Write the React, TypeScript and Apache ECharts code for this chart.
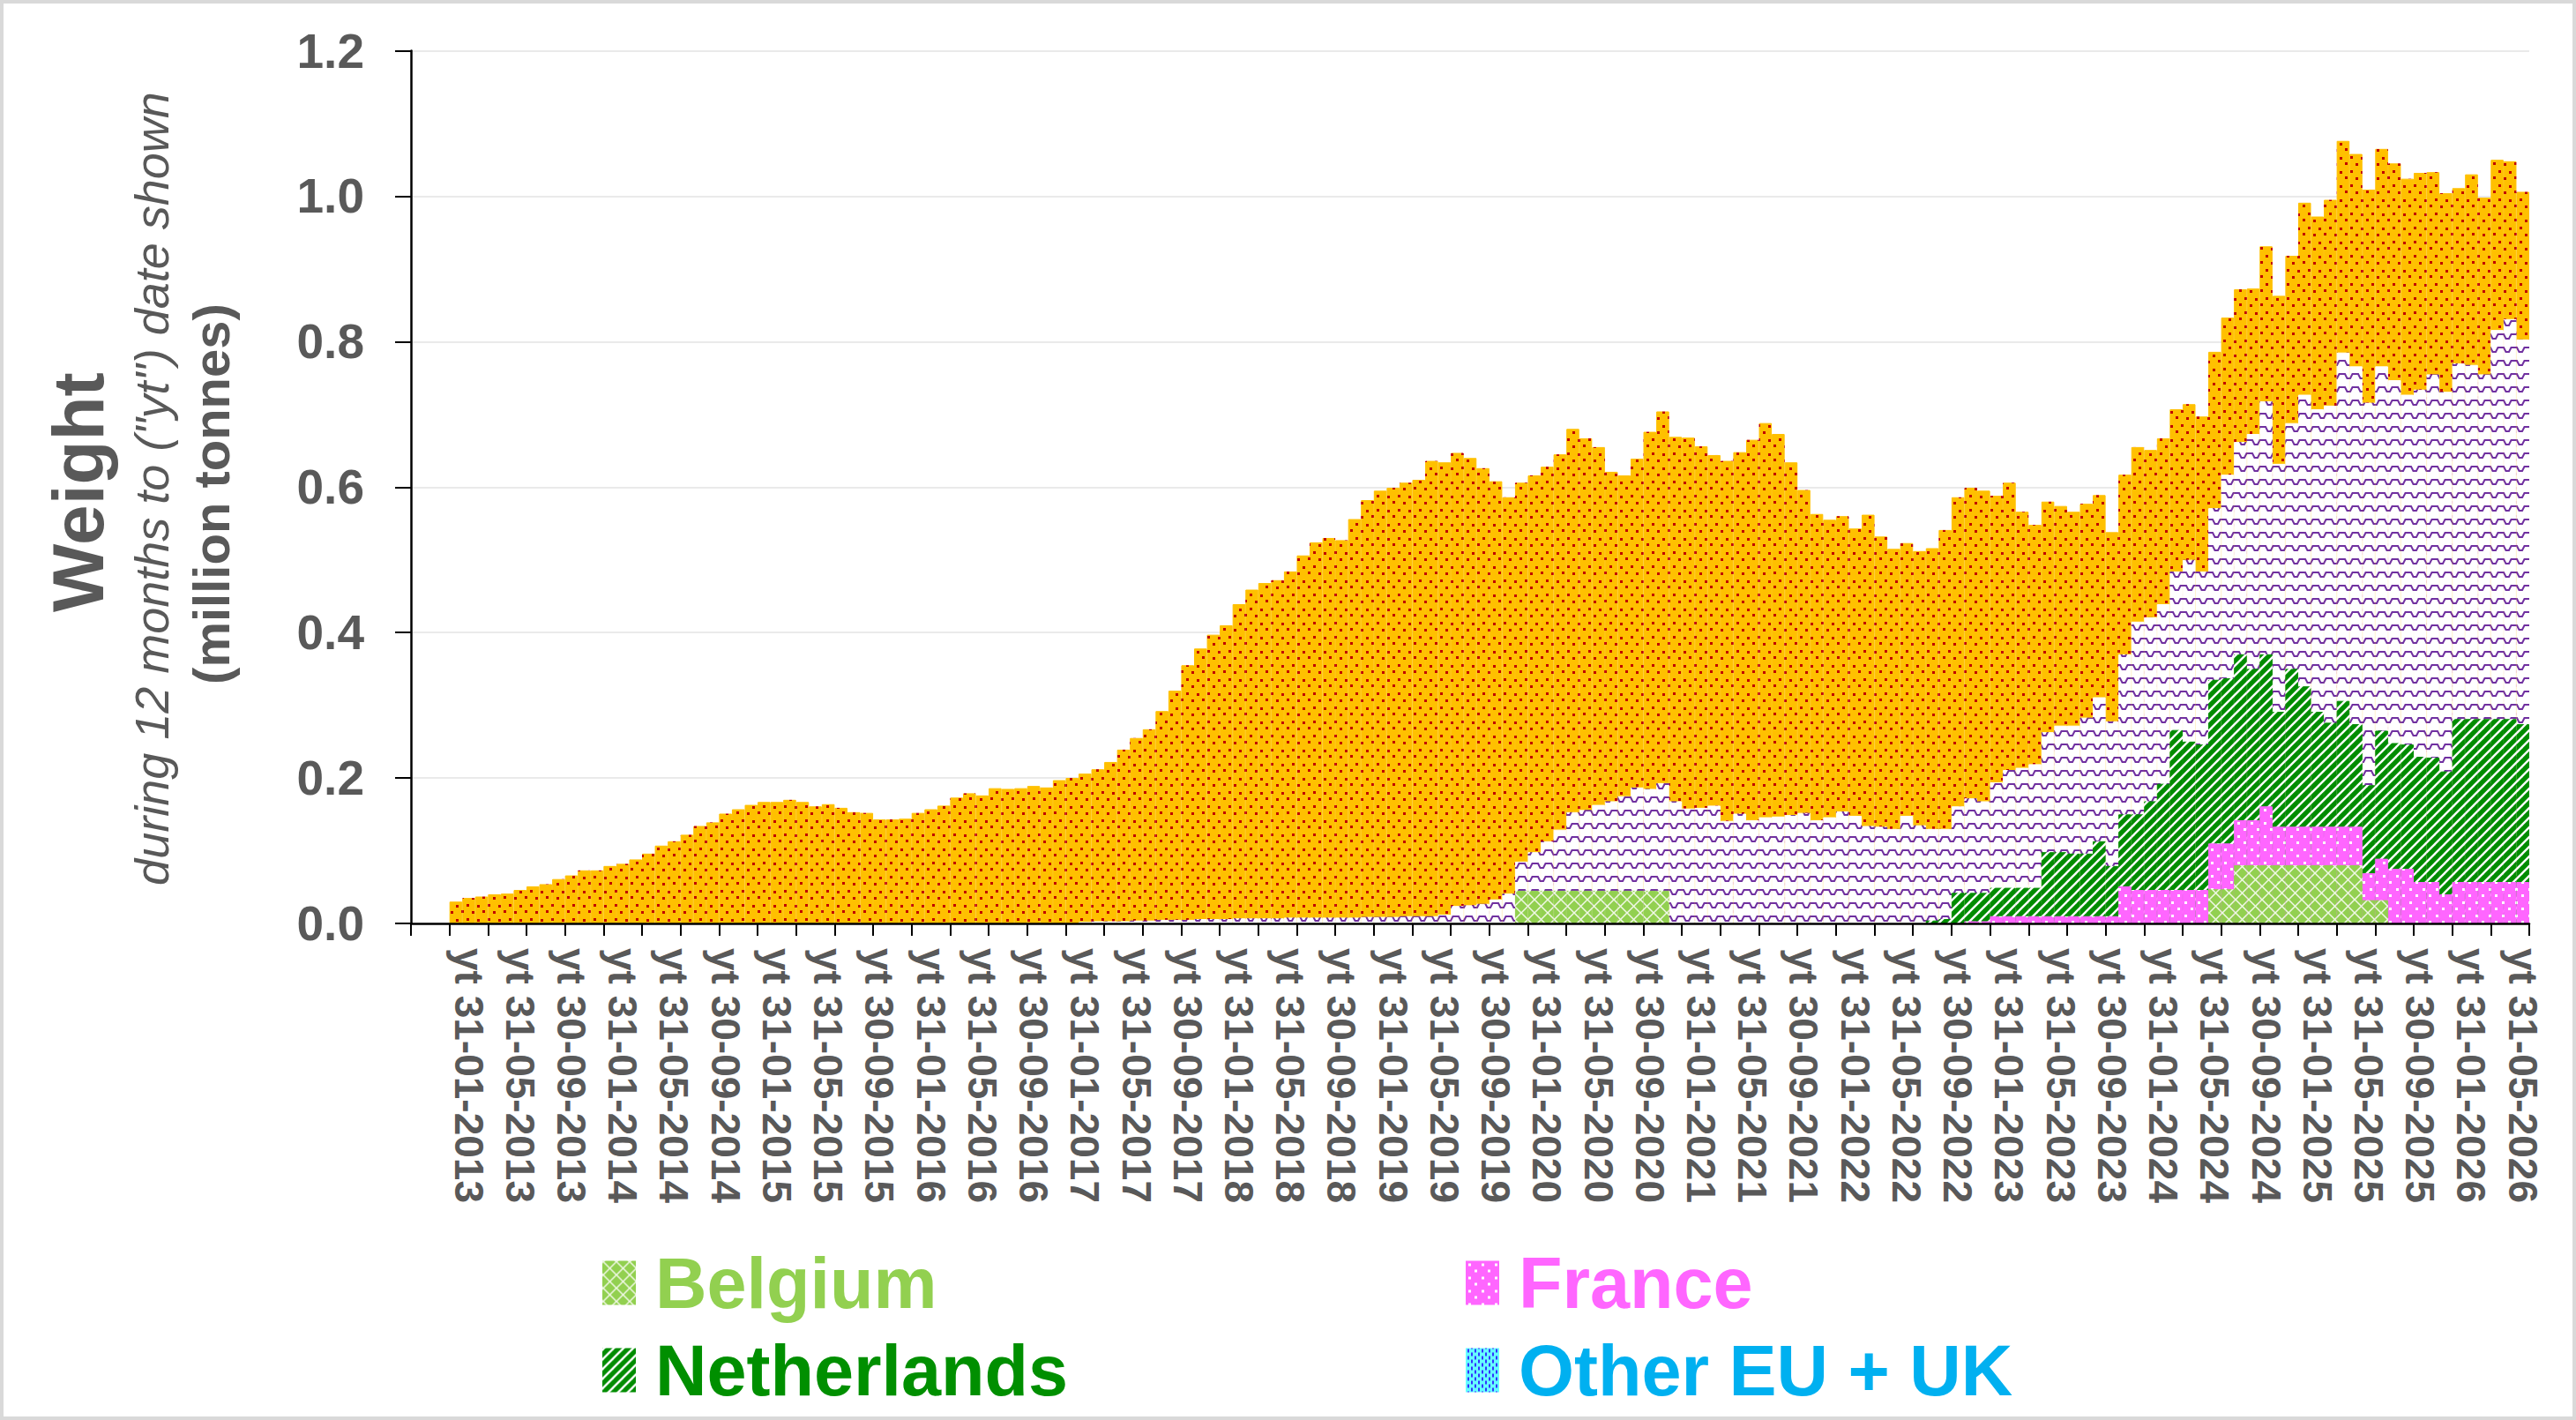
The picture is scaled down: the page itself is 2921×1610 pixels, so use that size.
import React, { useEffect, useRef } from "react";
import * as echarts from "echarts";

// months run from yt 31-12-2012 to yt 31-05-2026 (one row per calendar year, first row = Dec 2012)
const LEADING_BLANKS = 3; // empty category slots before the first month (Sep-Nov 2012)
const MONTHS = 162;

const seriesOrange = [
  0.030,
  0.035, 0.037, 0.040, 0.041, 0.046, 0.051, 0.054, 0.061, 0.066, 0.073, 0.073, 0.079,
  0.082, 0.088, 0.096, 0.107, 0.113, 0.122, 0.134, 0.139, 0.151, 0.157, 0.163, 0.167,
  0.167, 0.170, 0.167, 0.161, 0.164, 0.159, 0.153, 0.152, 0.143, 0.143, 0.144, 0.152,
  0.157, 0.162, 0.173, 0.179, 0.176, 0.186, 0.185, 0.186, 0.189, 0.187, 0.197, 0.200,
  0.206, 0.212, 0.222, 0.239, 0.255, 0.267, 0.292, 0.320, 0.355, 0.378, 0.397, 0.410,
  0.439, 0.459, 0.468, 0.472, 0.484, 0.506, 0.524, 0.530, 0.527, 0.556, 0.582, 0.595,
  0.599, 0.606, 0.610, 0.636, 0.634, 0.647, 0.640, 0.626, 0.608, 0.586, 0.606, 0.616,
  0.628, 0.645, 0.680, 0.667, 0.655, 0.621, 0.616, 0.639, 0.676, 0.704, 0.669, 0.668,
  0.656, 0.644, 0.636, 0.648, 0.665, 0.688, 0.673, 0.634, 0.596, 0.563, 0.555, 0.560,
  0.543, 0.562, 0.532, 0.515, 0.523, 0.512, 0.516, 0.541, 0.586, 0.599, 0.595, 0.588,
  0.606, 0.566, 0.548, 0.580, 0.574, 0.566, 0.577, 0.589, 0.538, 0.617, 0.655, 0.651,
  0.667, 0.707, 0.714, 0.697, 0.786, 0.833, 0.872, 0.873, 0.931, 0.863, 0.918, 0.991,
  0.972, 0.995, 1.076, 1.058, 1.009, 1.065, 1.045, 1.024, 1.032, 1.033, 1.004, 1.011,
  1.030, 0.998, 1.050, 1.048, 1.006,
];

const seriesPurple = [
  0,
  0, 0, 0, 0, 0, 0, 0, 0, 0, 0, 0, 0,
  0, 0, 0, 0, 0, 0, 0, 0, 0, 0, 0, 0,
  0, 0, 0, 0, 0, 0, 0, 0, 0, 0, 0, 0,
  0, 0, 0, 0, 0, 0, 0, 0, 0, 0, 0, 0,
  0.002, 0.003, 0.003, 0.003, 0.004, 0.004, 0.005, 0.005, 0.005, 0.006, 0.006, 0.006,
  0.007, 0.007, 0.007, 0.007, 0.008, 0.008, 0.008, 0.008, 0.008, 0.008, 0.009, 0.009,
  0.009, 0.010, 0.010, 0.010, 0.012, 0.024, 0.025, 0.027, 0.033, 0.041, 0.085, 0.098,
  0.113, 0.129, 0.153, 0.156, 0.163, 0.168, 0.175, 0.187, 0.185, 0.193, 0.168, 0.158,
  0.159, 0.162, 0.141, 0.151, 0.142, 0.146, 0.147, 0.149, 0.152, 0.142, 0.146, 0.154,
  0.148, 0.134, 0.133, 0.130, 0.148, 0.135, 0.130, 0.130, 0.161, 0.172, 0.168, 0.194,
  0.211, 0.214, 0.219, 0.263, 0.272, 0.272, 0.283, 0.311, 0.278, 0.370, 0.415, 0.421,
  0.439, 0.484, 0.500, 0.484, 0.571, 0.617, 0.662, 0.673, 0.718, 0.632, 0.688, 0.727,
  0.707, 0.712, 0.785, 0.766, 0.716, 0.766, 0.747, 0.727, 0.734, 0.755, 0.731, 0.770,
  0.768, 0.755, 0.816, 0.831, 0.803,
];

const netherlands = [
  0,
  0, 0, 0, 0, 0, 0, 0, 0, 0, 0, 0, 0,
  0, 0, 0, 0, 0, 0, 0, 0, 0, 0, 0, 0,
  0, 0, 0, 0, 0, 0, 0, 0, 0, 0, 0, 0,
  0, 0, 0, 0, 0, 0, 0, 0, 0, 0, 0, 0,
  0, 0, 0, 0, 0, 0, 0, 0, 0, 0, 0, 0,
  0, 0, 0, 0, 0, 0, 0, 0, 0, 0, 0, 0,
  0, 0, 0, 0, 0, 0, 0, 0, 0, 0, 0, 0,
  0, 0, 0, 0, 0, 0, 0, 0, 0, 0, 0, 0,
  0, 0, 0, 0, 0, 0, 0, 0, 0, 0, 0, 0,
  0, 0, 0, 0, 0, 0, 0.004, 0.006, 0.042, 0.042, 0.042, 0.049,
  0.049, 0.049, 0.049, 0.098, 0.098, 0.096, 0.096, 0.113, 0.079, 0.150, 0.150, 0.168,
  0.192, 0.266, 0.250, 0.246, 0.335, 0.337, 0.370, 0.350, 0.370, 0.291, 0.350, 0.326,
  0.291, 0.276, 0.306, 0.274, 0.190, 0.265, 0.248, 0.246, 0.229, 0.228, 0.209, 0.281,
  0.281, 0.281, 0.281, 0.281, 0.274,
];

const france = [
  0,
  0, 0, 0, 0, 0, 0, 0, 0, 0, 0, 0, 0,
  0, 0, 0, 0, 0, 0, 0, 0, 0, 0, 0, 0,
  0, 0, 0, 0, 0, 0, 0, 0, 0, 0, 0, 0,
  0, 0, 0, 0, 0, 0, 0, 0, 0, 0, 0, 0,
  0, 0, 0, 0, 0, 0, 0, 0, 0, 0, 0, 0,
  0, 0, 0, 0, 0, 0, 0, 0, 0, 0, 0, 0,
  0, 0, 0, 0, 0, 0, 0, 0, 0, 0, 0, 0,
  0, 0, 0, 0, 0, 0, 0, 0, 0, 0, 0, 0,
  0, 0, 0, 0, 0, 0, 0, 0, 0, 0, 0, 0,
  0, 0, 0, 0, 0, 0, 0, 0, 0, 0.003, 0.003, 0.010,
  0.010, 0.010, 0.010, 0.010, 0.010, 0.010, 0.010, 0.010, 0.010, 0.051, 0.046, 0.046,
  0.046, 0.046, 0.046, 0.046, 0.110, 0.110, 0.142, 0.142, 0.161, 0.133, 0.133, 0.133,
  0.133, 0.133, 0.133, 0.133, 0.069, 0.089, 0.075, 0.075, 0.057, 0.057, 0.040, 0.057,
  0.057, 0.057, 0.057, 0.057, 0.057,
];

const belgium = [
  0,
  0, 0, 0, 0, 0, 0, 0, 0, 0, 0, 0, 0,
  0, 0, 0, 0, 0, 0, 0, 0, 0, 0, 0, 0,
  0, 0, 0, 0, 0, 0, 0, 0, 0, 0, 0, 0,
  0, 0, 0, 0, 0, 0, 0, 0, 0, 0, 0, 0,
  0, 0, 0, 0, 0, 0, 0, 0, 0, 0, 0, 0,
  0, 0, 0, 0, 0, 0, 0, 0, 0, 0, 0, 0,
  0, 0, 0, 0, 0, 0, 0, 0, 0, 0, 0.045, 0.045,
  0.045, 0.045, 0.045, 0.045, 0.045, 0.045, 0.045, 0.045, 0.045, 0.045, 0, 0,
  0, 0, 0, 0, 0, 0, 0, 0, 0, 0, 0, 0,
  0, 0, 0, 0, 0, 0, 0, 0, 0, 0, 0, 0,
  0, 0, 0, 0, 0, 0, 0, 0, 0, 0, 0, 0,
  0, 0, 0, 0, 0.047, 0.047, 0.080, 0.080, 0.080, 0.080, 0.080, 0.080,
  0.080, 0.080, 0.080, 0.080, 0.032, 0.032, 0, 0, 0, 0, 0, 0,
  0, 0, 0, 0, 0,
];

const otherEuUk: number[] = [];

const yTicks = [0, 0.2, 0.4, 0.6, 0.8, 1.0, 1.2];

// "yt DD-MM-YYYY" for the last day of each month, blanks for the leading empty slots
const categories = Array.from({ length: LEADING_BLANKS + MONTHS }, (_, i) => {
  if (i < LEADING_BLANKS) return "";
  const d = new Date(2012, 8 + i + 1, 0);
  const dd = String(d.getDate()).padStart(2, "0");
  const mm = String(d.getMonth() + 1).padStart(2, "0");
  return `yt ${dd}-${mm}-${d.getFullYear()}`;
});

const FONT = '"Liberation Sans", Arial, Helvetica, sans-serif';
const GREY = "#595959";

const toData = (a: number[]) => [
  ...Array(LEADING_BLANKS).fill(null),
  ...a.map((v) => (v > 0 ? v : null)),
];

const tile = (w: number, h: number, draw: (ctx: CanvasRenderingContext2D) => void) => {
  const c = document.createElement("canvas");
  c.width = w;
  c.height = h;
  const ctx = c.getContext("2d")!;
  draw(ctx);
  return { image: c.toDataURL(), repeat: "repeat", imageWidth: w, imageHeight: h } as any;
};

const App: React.FC = () => {
  const chartRef = useRef<HTMLDivElement>(null);

  useEffect(() => {
    document.body.style.margin = "0";
    document.body.style.overflow = "hidden";
    if (!chartRef.current) return;

    const myChart = echarts.init(chartRef.current, undefined, { renderer: "svg" });

    // red confetti on orange
    const dotted = tile(24, 16, (ctx) => {
      ctx.fillStyle = "#FFC000";
      ctx.fillRect(0, 0, 24, 16);
      ctx.fillStyle = "#C00000";
      [[1, 1], [13, 2], [7, 9], [19, 8]].forEach(([x, y]) => ctx.fillRect(x, y, 3, 3));
    });
    const wave = tile(15, 15, (ctx) => {
      ctx.fillStyle = "#FFFFFF";
      ctx.fillRect(0, 0, 15, 15);
      ctx.strokeStyle = "#7030A0";
      ctx.lineWidth = 2;
      ctx.beginPath();
      ctx.moveTo(0, 4);
      ctx.lineTo(4, 4);
      ctx.lineTo(6.5, 9);
      ctx.lineTo(10, 9);
      ctx.lineTo(12.5, 4);
      ctx.lineTo(15, 4);
      ctx.stroke();
    });
    const stripes = tile(11, 11, (ctx) => {
      ctx.fillStyle = "#008C00";
      ctx.fillRect(0, 0, 11, 11);
      ctx.strokeStyle = "#FFFFFF";
      ctx.lineWidth = 2.4;
      [-11, 0, 11].forEach((o) => {
        ctx.beginPath();
        ctx.moveTo(o - 1, 12);
        ctx.lineTo(o + 12, -1);
        ctx.stroke();
      });
    });
    const pinkDots = tile(15, 15, (ctx) => {
      ctx.fillStyle = "#FF66FF";
      ctx.fillRect(0, 0, 15, 15);
      ctx.fillStyle = "#FFFFFF";
      ctx.fillRect(2, 2, 3, 3);
      ctx.fillRect(9, 9, 3, 3);
    });
    const lattice = tile(15, 15, (ctx) => {
      ctx.fillStyle = "#92D050";
      ctx.fillRect(0, 0, 15, 15);
      ctx.strokeStyle = "#F0F8E6";
      ctx.lineWidth = 1.5;
      ctx.beginPath();
      ctx.moveTo(-1, -1);
      ctx.lineTo(16, 16);
      ctx.moveTo(16, -1);
      ctx.lineTo(-1, 16);
      ctx.stroke();
    });
    const cyanDash = tile(8, 8, (ctx) => {
      ctx.fillStyle = "#66FFFF";
      ctx.fillRect(0, 0, 8, 8);
      ctx.fillStyle = "#3333FF";
      ctx.fillRect(1, 0, 2, 4);
      ctx.fillRect(5, 4, 2, 4);
    });

    const bar = (name: string, values: number[], pattern: any) => ({
      name,
      type: "bar",
      data: toData(values),
      barGap: "-100%",
      barCategoryGap: "0%",
      barWidth: "100%",
      silent: true,
      itemStyle: { color: pattern, borderColor: pattern, borderWidth: 1 },
    });

    const legendBase = {
      orient: "vertical",
      top: 1414,
      itemWidth: 36,
      itemHeight: 48,
      itemGap: 18,
      padding: 0,
      icon: "rect",
      selectedMode: false,
      textStyle: {
        fontSize: 81,
        fontWeight: "bold",
        fontFamily: FONT,
        lineHeight: 81,
        padding: [0, 0, 0, 18],
      },
    };

    const option: any = {
      animation: false,
      backgroundColor: "#FFFFFF",
      grid: { left: 466, top: 57.5, width: 2402, height: 989.5, containLabel: false },
      xAxis: {
        type: "category",
        data: categories,
        boundaryGap: true,
        z: 10,
        axisLine: { show: true, lineStyle: { color: "#000000", width: 2.5 } },
        axisTick: { show: true, interval: 2, length: 14, lineStyle: { color: "#000000", width: 2 } },
        axisLabel: {
          interval: 3,
          rotate: -90,
          margin: 28,
          color: GREY,
          fontSize: 46,
          fontWeight: "bold",
          fontFamily: FONT,
        },
        splitLine: { show: false },
      },
      yAxis: {
        type: "value",
        min: yTicks[0],
        max: yTicks[yTicks.length - 1],
        interval: 0.2,
        axisLine: { show: true, lineStyle: { color: "#000000", width: 2.5 } },
        axisTick: { show: true, length: 18, lineStyle: { color: "#000000", width: 2 } },
        axisLabel: {
          margin: 53,
          color: GREY,
          fontSize: 55,
          fontWeight: "bold",
          fontFamily: FONT,
          formatter: (v: number) => v.toFixed(1),
        },
        splitLine: { show: true, lineStyle: { color: "#E3E3E3", width: 1.5 } },
      },
      legend: [
        {
          ...legendBase,
          left: 683,
          data: [
            { name: "Belgium", textStyle: { color: "#92D050" } },
            { name: "Netherlands", textStyle: { color: "#008F00" } },
          ],
        },
        {
          ...legendBase,
          left: 1662,
          data: [
            { name: "France", textStyle: { color: "#FF66FF" } },
            { name: "Other EU + UK", textStyle: { color: "#00B0F0" } },
          ],
        },
      ],
      series: [
        bar("Series 6", seriesOrange, dotted),
        bar("Series 5", seriesPurple, wave),
        bar("Netherlands", netherlands, stripes),
        bar("France", france, pinkDots),
        bar("Belgium", belgium, lattice),
        bar("Other EU + UK", otherEuUk, cyanDash),
      ],
      graphic: [
        {
          type: "text",
          x: 88,
          y: 558,
          rotation: Math.PI / 2,
          silent: true,
          style: {
            text: "Weight",
            fill: GREY,
            fontSize: 82,
            fontWeight: "bold",
            fontFamily: FONT,
            align: "center",
            verticalAlign: "middle",
          },
        },
        {
          type: "text",
          x: 172,
          y: 554,
          rotation: Math.PI / 2,
          silent: true,
          style: {
            text: 'during 12 months to ("yt") date shown',
            fill: GREY,
            fontSize: 54,
            fontStyle: "italic",
            fontFamily: FONT,
            align: "center",
            verticalAlign: "middle",
          },
        },
        {
          type: "text",
          x: 239,
          y: 560,
          rotation: Math.PI / 2,
          silent: true,
          style: {
            text: "(million tonnes)",
            fill: GREY,
            fontSize: 58,
            fontWeight: "bold",
            fontFamily: FONT,
            align: "center",
            verticalAlign: "middle",
          },
        },
        {
          type: "rect",
          silent: true,
          z: 100,
          shape: { x: 2, y: 2, width: 2917, height: 1606 },
          style: { fill: "none", stroke: "#D9D9D9", lineWidth: 4 },
        },
      ],
    };

    myChart.setOption(option);

    return () => {
      myChart.dispose();
    };
  }, []);

  return <div ref={chartRef} style={{ width: 2921, height: 1610 }} />;
};

export default App;
